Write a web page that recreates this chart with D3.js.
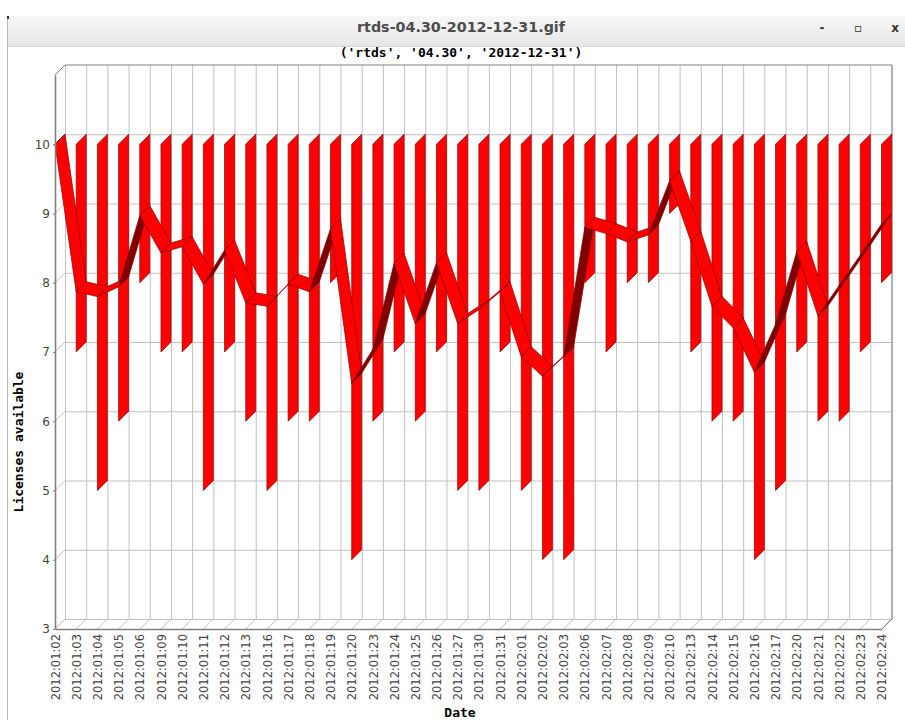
<!DOCTYPE html>
<html>
<head>
<meta charset="utf-8">
<script src="https://cdn.jsdelivr.net/npm/d3@7"></script>
<style>
  body { margin: 0; background: #fff; }
  svg { display: block; }
</style>
</head>
<body>
<script>
// trading days on the category axis
var dates = ['2012:01:02', '2012:01:03', '2012:01:04', '2012:01:05', '2012:01:06',
    '2012:01:09', '2012:01:10', '2012:01:11', '2012:01:12', '2012:01:13',
    '2012:01:16', '2012:01:17', '2012:01:18', '2012:01:19', '2012:01:20',
    '2012:01:23', '2012:01:24', '2012:01:25', '2012:01:26', '2012:01:27',
    '2012:01:30', '2012:01:31', '2012:02:01', '2012:02:02', '2012:02:03',
    '2012:02:06', '2012:02:07', '2012:02:08', '2012:02:09', '2012:02:10',
    '2012:02:13', '2012:02:14', '2012:02:15', '2012:02:16', '2012:02:17',
    '2012:02:20', '2012:02:21', '2012:02:22', '2012:02:23', '2012:02:24']

// highest number of free licenses per day
var maxAvail = [10, 10, 10, 10, 10, 10, 10, 10, 10, 10,
    10, 10, 10, 10, 10, 10, 10, 10, 10, 10,
    10, 10, 10, 10, 10, 10, 10, 10, 10, 10,
    10, 10, 10, 10, 10, 10, 10, 10, 10, 10]

// lowest number of free licenses per day
var minAvail = [10, 7, 5, 6, 8, 7, 7, 5, 7, 6,
    5, 6, 6, 8, 4, 6, 7, 6, 7, 5,
    5, 7, 5, 4, 4, 8, 7, 8, 8, 9,
    7, 6, 6, 4, 5, 7, 6, 6, 7, 8]

// daily average
var avgAvail = [10, 7.87, 7.80, 7.94, 8.97, 8.43, 8.52, 7.98, 8.47, 7.71,
    7.66, 7.98, 7.87, 8.78, 6.55, 7.04, 8.28, 7.41, 8.29, 7.41,
    7.61, 7.87, 6.93, 6.65, 6.93, 8.80, 8.71, 8.59, 8.69, 9.47,
    8.60, 7.66, 7.35, 6.71, 7.40, 8.45, 7.52, 7.96, 8.40, 8.85]

var yTicks = [3, 4, 5, 6, 7, 8, 9, 10]

var W = 905, H = 720
var DX = 10, DY = 10   // 3d depth offset
var RED = '#ff0000', DARK = '#800000', EDGE = '#8b0000'

var svg = d3.select('body').append('svg')
    .attr('width', W)
    .attr('height', H)

// ---- window frame ----
var grad = svg.append('defs').append('linearGradient')
    .attr('id', 'bar').attr('x1', 0).attr('y1', 0).attr('x2', 0).attr('y2', 1)
grad.append('stop').attr('offset', 0).attr('stop-color', '#f7f7f7')
grad.append('stop').attr('offset', 1).attr('stop-color', '#e6e6e6')

svg.append('rect')
    .attr('x', 8).attr('y', 16).attr('width', W - 8).attr('height', 30)
    .attr('fill', 'url(#bar)')
svg.append('line')
    .attr('x1', 8).attr('x2', W).attr('y1', 46.5).attr('y2', 46.5)
    .attr('stroke', '#d4d4d4')
svg.append('line')
    .attr('x1', 7.5).attr('x2', 7.5).attr('y1', 16).attr('y2', H)
    .attr('stroke', '#b8b8b8')
svg.append('rect')
    .attr('x', 7).attr('y', 16).attr('width', 2).attr('height', 3)
    .attr('fill', '#333')

svg.append('text')
    .attr('x', 461).attr('y', 32)
    .attr('text-anchor', 'middle')
    .attr('font-family', 'DejaVu Sans')
    .attr('font-size', 14)
    .attr('font-weight', 'bold')
    .attr('textLength', 208)
    .attr('lengthAdjust', 'spacingAndGlyphs')
    .attr('fill', '#4d4d4d')
    .text('rtds-04.30-2012-12-31.gif')

var btns = [['-', 822], ['\u25AB', 858], ['x', 895]]
svg.selectAll('.btn').data(btns).enter().append('text')
    .attr('class', 'btn')
    .attr('x', function(d) { return d[1] })
    .attr('y', 32)
    .attr('text-anchor', 'middle')
    .attr('font-family', 'DejaVu Sans')
    .attr('font-size', 12)
    .attr('font-weight', 'bold')
    .attr('fill', '#333')
    .text(function(d) { return d[0] })

// ---- chart ----
svg.append('text')
    .attr('x', 461).attr('y', 57)
    .attr('text-anchor', 'middle')
    .attr('font-family', 'DejaVu Sans Mono')
    .attr('font-size', 13)
    .attr('font-weight', 'bold')
    .attr('fill', '#000')
    .text("('rtds', '04.30', '2012-12-31')")

// (window.top is read-only, so keep these names distinct)
var plotL = 55, plotR = 881.5, plotT = 75, plotB = 629

var x = d3.scalePoint().domain(dates).range([plotL, plotR]).padding(0)
var y = d3.scaleLinear().domain([3, 11]).range([plotB, plotT])

var g = svg.append('g')

// back wall
g.append('rect')
    .attr('x', plotL + DX).attr('y', plotT - DY)
    .attr('width', plotR + 0.5 - plotL).attr('height', plotB - plotT)
    .attr('fill', '#fff')

// horizontal grid on wall + left side
yTicks.forEach(function(v) {
    g.append('line')
        .attr('x1', plotL + DX).attr('x2', plotR + 0.5 + DX)
        .attr('y1', y(v) - DY + 0.5).attr('y2', y(v) - DY + 0.5)
        .attr('stroke', '#c0c0c0')
    g.append('line')
        .attr('x1', plotL).attr('x2', plotL + DX)
        .attr('y1', y(v)).attr('y2', y(v) - DY)
        .attr('stroke', '#c0c0c0')
})

// vertical grid on wall + floor
dates.forEach(function(d) {
    g.append('line')
        .attr('x1', x(d) + DX + 0.5).attr('x2', x(d) + DX + 0.5)
        .attr('y1', plotT - DY).attr('y2', plotB - DY)
        .attr('stroke', '#c0c0c0')
    g.append('line')
        .attr('x1', x(d)).attr('x2', x(d) + DX)
        .attr('y1', plotB).attr('y2', plotB - DY)
        .attr('stroke', '#c0c0c0')
})

// frame edges
g.append('path')
    .attr('d', 'M' + plotL + ',' + plotT + 'L' + (plotL + DX) + ',' + (plotT - DY) +
        'L' + (plotR + 0.5 + DX) + ',' + (plotT - DY) + 'L' + (plotR + 0.5 + DX) + ',' + (plotB - DY) +
        'L' + (plotR + 0.5) + ',' + plotB)
    .attr('fill', 'none')
    .attr('stroke', '#808080')

function ribbon(x0, y0, x1, y1) {
    return [[x0, y0], [x1, y1], [x1 + DX, y1 - DY], [x0 + DX, y0 - DY]]
}
var line = d3.line()

// min-max span per day
var spans = dates.map(function(d, i) {
    return ribbon(x(d), y(maxAvail[i]), x(d), y(minAvail[i]))
})
g.selectAll('.span').data(spans).enter().append('path')
    .attr('class', 'span')
    .attr('d', function(p) { return line(p) + 'Z' })
    .attr('fill', RED)
    .attr('stroke', EDGE)
    .attr('stroke-width', 0.7)
    .attr('stroke-linejoin', 'round')

// average line
var segs = []
for (var i = 1; i < dates.length; i++) {
    segs.push(ribbon(x(dates[i - 1]), y(avgAvail[i - 1]), x(dates[i]), y(avgAvail[i])))
}
g.selectAll('.seg').data(segs).enter().append('path')
    .attr('class', 'seg')
    .attr('d', function(p) { return line(p) + 'Z' })
    .attr('fill', function(p) {
        // steep rise shows the underside of the ribbon
        return (p[1][0] - p[0][0]) + (p[1][1] - p[0][1]) < 0 ? DARK : RED
    })
    .attr('stroke', EDGE)
    .attr('stroke-width', 0.7)
    .attr('stroke-linejoin', 'round')

// axes
var yAxis = g.append('g')
    .attr('transform', 'translate(' + plotL + ',0)')
    .call(d3.axisLeft(y).tickValues(yTicks).tickSize(2).tickPadding(3).tickSizeOuter(0))
yAxis.select('.domain').attr('stroke', '#808080').attr('stroke-width', 1.6)
yAxis.selectAll('.tick line').attr('stroke', '#808080')
yAxis.selectAll('text')
    .attr('font-family', 'DejaVu Sans')
    .attr('font-size', 12)
    .attr('fill', '#444')

var xAxis = g.append('g')
    .attr('transform', 'translate(0,' + plotB + ')')
    .call(d3.axisBottom(x).tickSize(0).tickSizeOuter(0))
xAxis.select('.domain').attr('stroke', '#808080').attr('stroke-width', 1.6)
xAxis.selectAll('text')
    .attr('transform', 'rotate(-90)')
    .attr('x', -5)
    .attr('y', 0)
    .attr('dy', '0.36em')
    .attr('text-anchor', 'end')
    .attr('font-family', 'DejaVu Sans')
    .attr('font-size', 11.5)
    .attr('fill', '#444')

// axis titles
svg.append('text')
    .attr('transform', 'translate(23,442) rotate(-90)')
    .attr('text-anchor', 'middle')
    .attr('font-family', 'DejaVu Sans Mono')
    .attr('font-size', 13)
    .attr('font-weight', 'bold')
    .text('Licenses available')

svg.append('text')
    .attr('x', 460).attr('y', 717)
    .attr('text-anchor', 'middle')
    .attr('font-family', 'DejaVu Sans Mono')
    .attr('font-size', 13)
    .attr('font-weight', 'bold')
    .text('Date')
</script>
</body>
</html>
